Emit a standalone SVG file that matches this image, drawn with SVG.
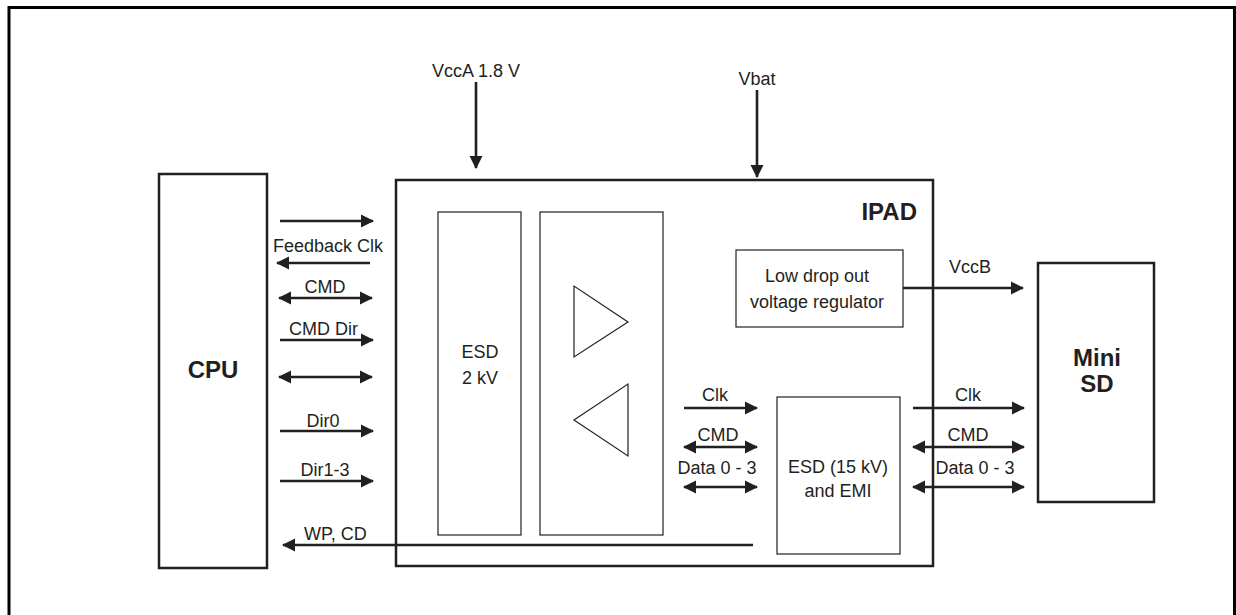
<svg xmlns="http://www.w3.org/2000/svg" width="1236" height="615" viewBox="0 0 1236 615">
<style>
text{font-family:"Liberation Sans",Arial,sans-serif;font-size:18px;fill:#231f20}
.b{font-weight:bold;font-size:24px}
.c{text-anchor:middle}
.thick{fill:#fff;stroke:#231f20;stroke-width:2.5}
.thin{fill:#fff;stroke:#231f20;stroke-width:1.2}
.w{fill:none;stroke:#231f20;stroke-width:2.6}
</style>
<defs>
<marker id="ah" markerUnits="userSpaceOnUse" markerWidth="14" markerHeight="14" viewBox="0 0 14 14" refX="12" refY="7" orient="auto-start-reverse">
<path d="M0,0.5 L13,7 L0,13.5 Z" fill="#231f20"/>
</marker>
</defs>
<rect width="1236" height="615" fill="#fff"/>
<path d="M9,620 V7.5 H1234.5 V620" fill="none" stroke="#000" stroke-width="3"/>
<g id="cpu"><rect class="thick" x="159" y="174" width="108" height="394"/><text class="b c" x="213" y="378">CPU</text></g>
<g id="ipad"><rect class="thick" x="396" y="180" width="537" height="386"/><text class="b" x="917" y="220" text-anchor="end">IPAD</text></g>
<g id="esd2kv"><rect class="thin" x="438" y="212" width="83" height="323"/><text class="c" x="480" y="358">ESD</text><text class="c" x="480" y="384">2 kV</text></g>
<g id="buffers"><rect class="thin" x="540" y="212" width="123" height="323"/>
<polygon class="thin" points="574,286 574,357 628,322"/><polygon class="thin" points="628,384 628,456 574,420"/></g>
<g id="ldo"><rect class="thin" x="736" y="250" width="167" height="77"/><text class="c" x="817" y="282">Low drop out</text><text class="c" x="817" y="308">voltage regulator</text></g>
<g id="esd15"><rect class="thin" x="777" y="397" width="123" height="157"/><text class="c" x="838" y="473">ESD (15 kV)</text><text class="c" x="838" y="497">and EMI</text></g>
<g id="minisd"><rect class="thick" x="1038" y="263" width="116" height="239"/><text class="b c" x="1097" y="366">Mini</text><text class="b c" x="1097" y="392">SD</text></g>
<g id="connectors">
<line class="w" x1="476" y1="82" x2="476" y2="168" marker-end="url(#ah)"/>
<line class="w" x1="757" y1="90" x2="757" y2="177" marker-end="url(#ah)"/>
<line class="w" x1="280" y1="221" x2="373" y2="221" marker-end="url(#ah)"/>
<line class="w" x1="370" y1="263" x2="277" y2="263" marker-end="url(#ah)"/>
<line class="w" x1="279" y1="298" x2="372" y2="298" marker-start="url(#ah)" marker-end="url(#ah)"/>
<line class="w" x1="280" y1="340" x2="373" y2="340" marker-end="url(#ah)"/>
<line class="w" x1="279" y1="377" x2="372" y2="377" marker-start="url(#ah)" marker-end="url(#ah)"/>
<line class="w" x1="280" y1="431" x2="373" y2="431" marker-end="url(#ah)"/>
<line class="w" x1="280" y1="481" x2="373" y2="481" marker-end="url(#ah)"/>
<line class="w" x1="753" y1="545" x2="283" y2="545" marker-end="url(#ah)"/>
<line class="w" x1="903" y1="288" x2="1023" y2="288" marker-end="url(#ah)"/>
<line class="w" x1="684" y1="408" x2="757" y2="408" marker-end="url(#ah)"/>
<line class="w" x1="684" y1="447" x2="757" y2="447" marker-start="url(#ah)" marker-end="url(#ah)"/>
<line class="w" x1="684" y1="487" x2="757" y2="487" marker-start="url(#ah)" marker-end="url(#ah)"/>
<line class="w" x1="913" y1="408" x2="1024" y2="408" marker-end="url(#ah)"/>
<line class="w" x1="913" y1="447" x2="1024" y2="447" marker-start="url(#ah)" marker-end="url(#ah)"/>
<line class="w" x1="913" y1="487" x2="1024" y2="487" marker-start="url(#ah)" marker-end="url(#ah)"/>
</g>
<g id="labels">
<text x="432" y="77">VccA 1.8 V</text>
<text class="c" x="757" y="85">Vbat</text>
<text x="273" y="252">Feedback Clk</text>
<text class="c" x="325" y="293">CMD</text>
<text x="289" y="335">CMD Dir</text>
<text class="c" x="323" y="427">Dir0</text>
<text class="c" x="325" y="476">Dir1-3</text>
<text x="304" y="540">WP, CD</text>
<text class="c" x="970" y="273">VccB</text>
<text class="c" x="715" y="401">Clk</text>
<text class="c" x="718" y="441">CMD</text>
<text class="c" x="717" y="474">Data 0 - 3</text>
<text class="c" x="968" y="401">Clk</text>
<text class="c" x="968" y="441">CMD</text>
<text class="c" x="975" y="474">Data 0 - 3</text>
</g>
</svg>
